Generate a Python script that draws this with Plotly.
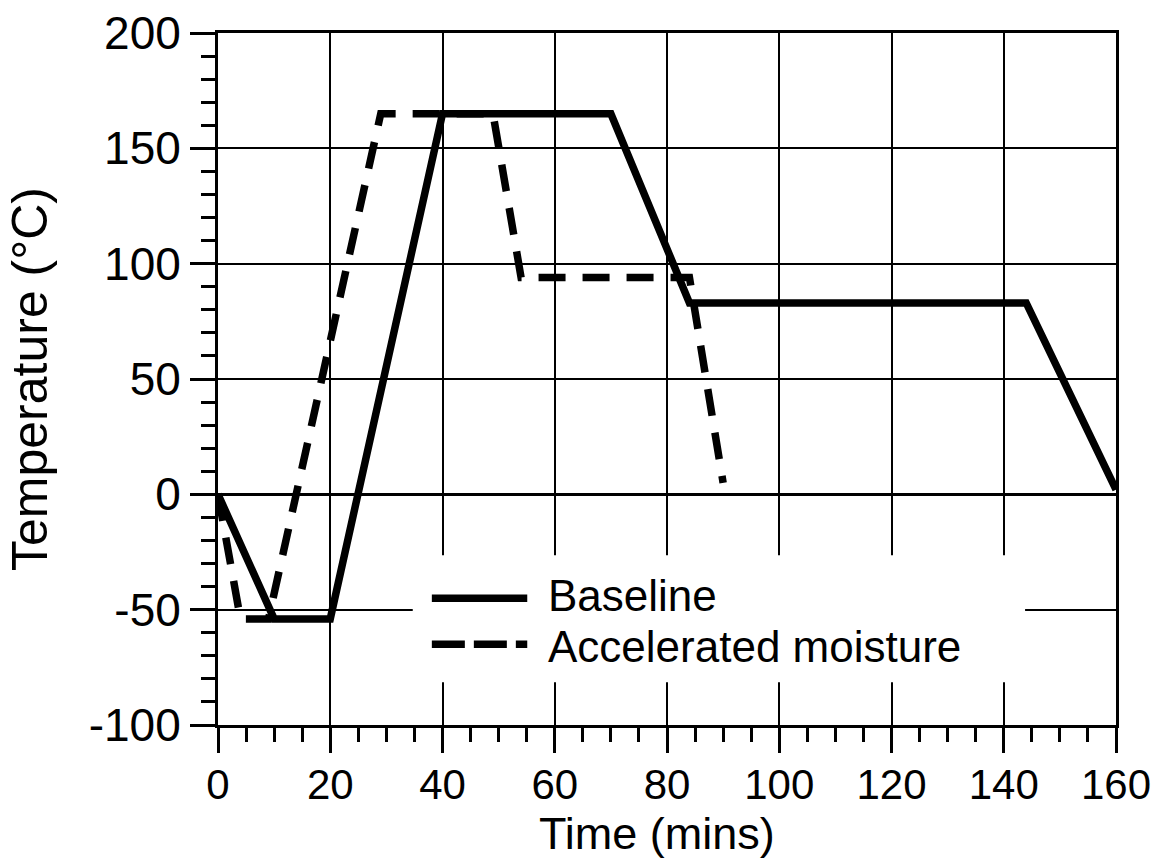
import plotly.graph_objects as go

# Thermal cycle profiles: time (min) vs temperature (°C)
baseline_time = [0, 10, 20, 40, 70, 84, 144, 160]
baseline_temp = [0, -54, -54, 165, 165, 83, 83, 2]

accel_time = [0, 4, 9, 29, 49, 54, 84, 90]
accel_temp = [0, -54, -54, 165, 165, 94, 94, 5]

series_names = ["Baseline", "Accelerated moisture"]

x_ticks = [0, 20, 40, 60, 80, 100, 120, 140, 160]
y_ticks = [-100, -50, 0, 50, 100, 150, 200]

FONT = "Liberation Sans, Arial, Helvetica, sans-serif"

fig = go.Figure()
fig.add_trace(go.Scatter(
    x=baseline_time, y=baseline_temp, mode="lines", name=series_names[0],
    line=dict(color="black", width=7.5),
))
fig.add_trace(go.Scatter(
    x=accel_time, y=accel_temp, mode="lines", name=series_names[1],
    line=dict(color="black", width=7.5, dash="27px,17px"),
))

axis_common = dict(
    showline=True, linewidth=3, linecolor="black", mirror=True,
    ticks="outside", ticklen=25, tickwidth=3, tickcolor="black",
    showgrid=True, gridcolor="black", gridwidth=1.5,
)

fig.update_xaxes(
    range=[0, 160], tickvals=x_ticks, ticktext=[str(v) for v in x_ticks],
    zeroline=False,
    tickfont=dict(family=FONT, size=42, color="black"),
    ticklabelstandoff=-4,
    minor=dict(dtick=5, tick0=0, ticks="outside", ticklen=14, tickwidth=2.5,
               tickcolor="black", showgrid=False),
    **axis_common,
)
fig.update_yaxes(
    range=[-100, 200], tickvals=y_ticks, ticktext=[str(v) for v in y_ticks],
    zeroline=True, zerolinewidth=3, zerolinecolor="black",
    tickfont=dict(family=FONT, size=46, color="black"),
    minor=dict(dtick=10, tick0=0, ticks="outside", ticklen=14, tickwidth=2.5,
               tickcolor="black", showgrid=False),
    title=dict(text="Temperature (°C)", font=dict(family=FONT, size=50, color="black"),
               standoff=26),
    **axis_common,
)

# Legend: white panel over the grid, line samples and labels
shapes = [
    dict(type="rect", xref="x", yref="y", x0=34.7, x1=143.8, y0=-81.5, y1=-26.4,
         fillcolor="white", line=dict(width=0), layer="between"),
    dict(type="line", xref="x", yref="y", x0=38.1, x1=55.1, y0=-45.1, y1=-45.1,
         line=dict(color="black", width=7.5), layer="above"),
    dict(type="line", xref="x", yref="y", x0=38.1, x1=55.1, y0=-65.0, y1=-65.0,
         line=dict(color="black", width=7.5, dash="33px,9px"), layer="above"),
]
annotations = [
    dict(x=58.4, y=-44.0, xref="x", yref="y", text=series_names[0], showarrow=False,
         xanchor="left", yanchor="middle",
         font=dict(family=FONT, size=44, color="black")),
    dict(x=58.4, y=-66.0, xref="x", yref="y", text=series_names[1], showarrow=False,
         xanchor="left", yanchor="middle",
         font=dict(family=FONT, size=44, color="black")),
    # x-axis title, set at the foot of the figure
    dict(x=0.5, y=0, xref="paper", yref="paper", text="Time (mins)", showarrow=False,
         xanchor="center", yanchor="bottom", xshift=-10, yshift=-136,
         font=dict(family=FONT, size=45, color="black")),
]

fig.update_layout(
    width=1160, height=860,
    margin=dict(l=218, r=44, t=33, b=135, autoexpand=False),
    paper_bgcolor="white", plot_bgcolor="white",
    showlegend=False,
    shapes=shapes, annotations=annotations,
    font=dict(family=FONT, color="black"),
)

fig.write_html("out.html")
